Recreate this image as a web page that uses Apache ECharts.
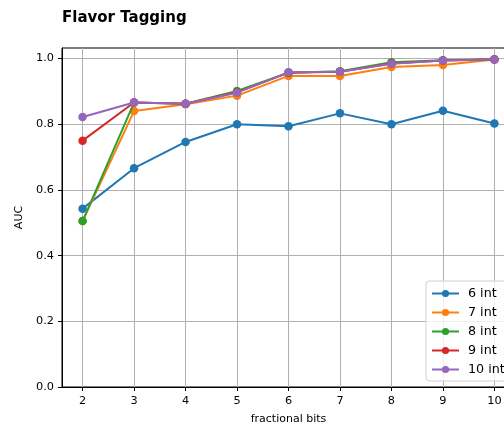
<!DOCTYPE html>
<html>
<head>
<meta charset="utf-8">
<script src="https://cdn.jsdelivr.net/npm/echarts@6/dist/echarts.min.js"></script>
<style>
    html, body { margin: 0; padding: 0; background: #fff; }
    #main { width: 504px; height: 426px; }
</style>
</head>
<body>
<div id="main"></div>
<script>
var bits = [2, 3, 4, 5, 6, 7, 8, 9, 10];
var yTicks = [0, 0.2, 0.4, 0.6, 0.8, 1.0];
var seriesNames = ['6 int', '7 int', '8 int', '9 int', '10 int'];
var int6 = [0.543, 0.666, 0.746, 0.800, 0.794, 0.833, 0.800, 0.841, 0.802];
var int7 = [0.505, 0.840, 0.861, 0.887, 0.947, 0.947, 0.974, 0.980, 0.997];
var int8 = [0.505, 0.866, 0.862, 0.901, 0.957, 0.961, 0.989, 0.995, 0.998];
var int9 = [0.750, 0.866, 0.862, 0.897, 0.957, 0.960, 0.985, 0.994, 0.997];
var int10 = [0.822, 0.866, 0.862, 0.896, 0.958, 0.960, 0.984, 0.994, 0.997];
var colors = ['#1f77b4', '#ff7f0e', '#2ca02c', '#d62728', '#9467bd'];

var chartDom = document.getElementById('main');
var myChart = echarts.init(chartDom);
var font = 'DejaVu Sans';

function pairs(vals) {
    return bits.map(function (b, i) { return [b, vals[i]]; });
}

var allData = [int6, int7, int8, int9, int10];
var series = allData.map(function (vals, i) {
    return {
        name: seriesNames[i],
        type: 'line',
        data: pairs(vals),
        symbol: 'circle',
        symbolSize: 8.5,
        showAllSymbol: true,
        color: colors[i],
        lineStyle: { width: 2 },
        emphasis: { disabled: true },
        z: 2 + i
    };
});

var option = {
    animation: false,
    textStyle: { fontFamily: font },
    title: {
        text: 'Flavor Tagging',
        left: 57,
        top: 6,
        textStyle: { fontFamily: font, fontSize: 15, fontWeight: 'bold', color: '#000' }
    },
    grid: {
        left: 62,
        top: 48,
        right: -11,
        bottom: 39,
        outerBoundsMode: 'none',
        containLabel: false,
        show: true,
        borderColor: '#000',
        borderWidth: 1
    },
    legend: {
        orient: 'vertical',
        left: 426,
        top: 281,
        itemWidth: 27,
        itemHeight: 9,
        itemGap: 6,
        padding: [6, 12, 5, 5],
        backgroundColor: 'rgba(255,255,255,0.8)',
        borderColor: '#d0d0d0',
        borderWidth: 1,
        borderRadius: 3,
        textStyle: { fontFamily: font, fontSize: 12.7, color: '#000', padding: [0, 0, 0, 4] },
        data: seriesNames
    },
    xAxis: {
        type: 'value',
        min: 1.6,
        max: 10.4,
        name: 'fractional bits',
        nameLocation: 'middle',
        nameGap: 27,
        nameTextStyle: { fontFamily: font, fontSize: 11, color: '#000' },
        axisLine: { show: true, lineStyle: { color: '#000' } },
        axisTick: { show: true, length: 4, customValues: bits, lineStyle: { color: '#000' } },
        axisLabel: { customValues: bits, color: '#000', fontSize: 11.3, margin: 9 },
        splitLine: { show: true, lineStyle: { color: '#b0b0b0', width: 1 } }
    },
    yAxis: {
        type: 'value',
        min: 0,
        max: 1.032,
        name: 'AUC',
        nameLocation: 'middle',
        nameGap: 36,
        nameTextStyle: { fontFamily: font, fontSize: 11, color: '#000' },
        axisLine: { show: true, lineStyle: { color: '#000' } },
        axisTick: { show: true, length: 4, customValues: yTicks, lineStyle: { color: '#000' } },
        axisLabel: {
            customValues: yTicks,
            color: '#000',
            fontSize: 11.3,
            margin: 8,
            formatter: function (v) { return v.toFixed(1); }
        },
        splitLine: { show: true, lineStyle: { color: '#b0b0b0', width: 1 } }
    },
    series: series
};

option && myChart.setOption(option);
</script>
</body>
</html>
